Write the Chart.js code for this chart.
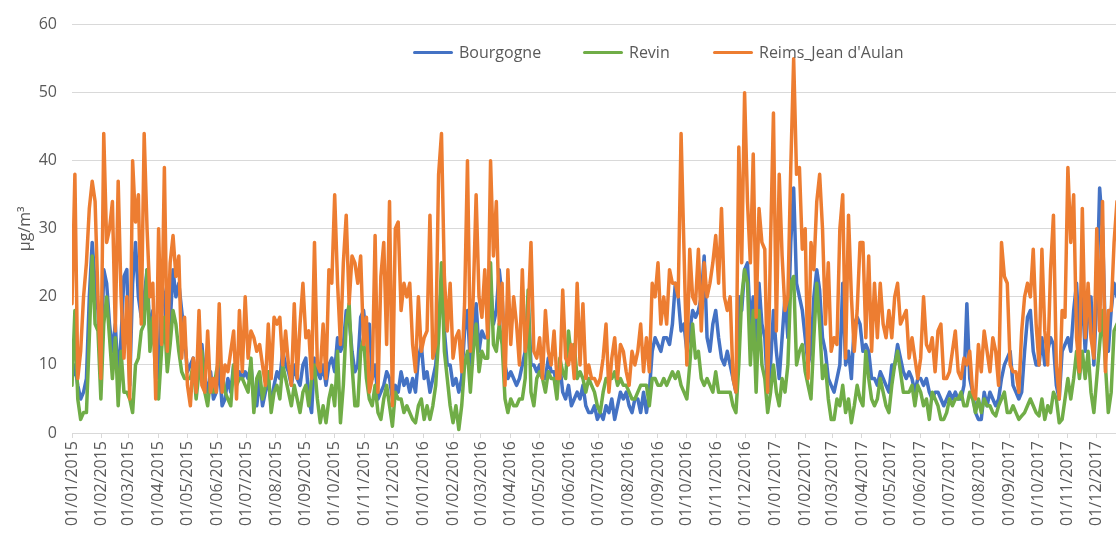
<!DOCTYPE html>
<html lang="fr">
<head>
<meta charset="utf-8">
<title>Concentrations journalières</title>
<script src="https://cdn.jsdelivr.net/npm/chart.js@4.4.1/dist/chart.umd.min.js"></script>
<style>
  html, body { margin: 0; padding: 0; background: #fff; }
  #wrap { position: relative; width: 1116px; height: 533px; }
  #legend { position: absolute; top: 0; left: 0; font-family: 'Open Sans', sans-serif; font-size: 16px; color: #595959; }
  .item { position: absolute; top: 41px; white-space: nowrap; display: flex; align-items: center; height: 22px; }
  .swatch { display: inline-block; width: 40px; height: 3px; border-radius: 2px; margin-right: 6px; }
</style>
</head>
<body>
<div id="wrap">
  <canvas id="chart"></canvas>
  <div id="legend">
    <div class="item" style="left:413px"><span class="swatch" style="background:#4472C4"></span>Bourgogne</div>
    <div class="item" style="left:583px"><span class="swatch" style="background:#70AD47"></span>Revin</div>
    <div class="item" style="left:713px"><span class="swatch" style="background:#ED7D31"></span>Reims_Jean d'Aulan</div>
  </div>
</div>
<script>
// une valeur tous les 3 jours à partir du 01/01/2015
const startDate = '01/01/2015';
const stepDays = 3;

const monthLabels = [
  '01/01/2015', '01/02/2015', '01/03/2015', '01/04/2015', '01/05/2015', '01/06/2015',
  '01/07/2015', '01/08/2015', '01/09/2015', '01/10/2015', '01/11/2015', '01/12/2015',
  '01/01/2016', '01/02/2016', '01/03/2016', '01/04/2016', '01/05/2016', '01/06/2016',
  '01/07/2016', '01/08/2016', '01/09/2016', '01/10/2016', '01/11/2016', '01/12/2016',
  '01/01/2017', '01/02/2017', '01/03/2017', '01/04/2017', '01/05/2017', '01/06/2017',
  '01/07/2017', '01/08/2017', '01/09/2017', '01/10/2017', '01/11/2017', '01/12/2017'
];

const bourgogne = [
  8,10,7,5,6,8,20,28,22,18,9,24,22,16,12,16,8,14,23,24,7,22,28,20,17,20,24,14,18,10,8,22,20,12,16,
  24,20,22,18,14,9,10,11,7,10,13,8,6,9,5,6,10,4,5,8,6,10,8,9,8,9,8,10,5,4,8,4,6,8,4,7,
  9,8,12,10,9,7,10,8,7,10,11,5,3,11,9,8,10,7,10,11,9,14,12,13,18,17,12,9,10,17,18,14,16,8,10,5,6,
  7,9,8,5,7,6,9,7,8,6,8,6,11,13,8,9,6,8,10,16,22,15,10,10,7,8,6,8,15,18,10,14,19,12,15,14,
  14,22,16,18,24,20,10,8,9,8,7,8,10,12,20,10,10,9,10,8,8,11,9,9,7,10,6,5,7,4,5,6,5,7,4,3,
  3,4,2,3,2,4,3,5,2,4,6,5,6,4,3,5,5,3,6,3,6,12,14,13,12,14,14,13,16,22,20,15,16,12,15,18,17,18,
  20,26,14,12,16,18,14,11,10,12,10,8,6,20,18,24,25,16,20,10,22,16,14,6,10,18,12,8,14,20,14,28,36,22,20,18,
  14,10,12,20,24,21,14,12,8,7,6,8,10,22,10,12,8,16,17,16,12,13,12,8,8,7,9,8,7,6,10,10,13,11,9,
  8,9,8,6,8,8,7,8,6,5,6,6,5,4,5,6,5,6,5,5,7,19,8,6,3,2,2,6,4,6,5,4,5,8,10,11,12,
  7,6,5,6,12,17,18,12,10,10,14,10,12,14,13,7,5,12,13,14,12,18,22,14,20,12,18,20,10,20,36,30,14,12,18,22,20
];

const revin = [
  7,18,5,2,3,3,14,26,16,15,5,16,20,14,8,14,4,12,6,6,5,3,10,11,15,16,24,12,17,8,5,12,17,9,13,
  18,16,12,9,8,8,8,10,5,9,12,6,4,8,6,9,11,9,6,5,4,10,7,8,8,7,6,11,3,8,9,5,7,9,3,6,
  7,5,10,8,6,4,7,5,3,6,7,4,8,10,5,1.5,4,1.5,5,7,4,12,1.5,7,16,19,10,4,4,12,14,8,5,4,7,3,2,
  5,7,4,1,6,5,5,3,4,3,2,1.5,4,5,2,4,2,4,7,14,25,12,8,4,1.5,4,0.5,4,10,12,6,12,16,9,12,11,
  11,25,13,12,16,13,5,3,5,4,4,5,5,8,21,6,4,8,9,8,6,9,8,8,5,11,9,8,15,11,13,8,9,8,6,8,
  7,6,4,3,6,8,8,8,9,7,8,7,7,6,5,5,6,7,7,7,4,8,8,7,7,8,7,8,9,8,9,7,6,5,10,16,11,12,
  8,7,8,7,6,9,6,6,6,6,6,4,3,10,20,24,22,10,18,6,18,10,8,3,6,10,6,4,8,6,10,22,23,10,12,13,
  9,7,5,14,22,16,8,10,5,2,2,5,4,7,3,5,1.5,4,7,5,4,12,8,5,4,5,8,6,4,3,7,10,12,9,6,
  6,6,7,4,7,6,4,5,2,6,5,4,2,2,3,5,4,5,5,6,4,4,6,5,3,5,3,5,4,4,3,2.5,4,5,6,3,3,
  4,3,2,2.5,3,4,5,4,3,2.5,5,2,4,3,6,5,1.5,2,5,8,5,8,12,8,12,8,12,6,3,8,13,18,10,3,6,15,16
];

const reims = [
  19,38,8,12,20,25,33,37,34,20,8,44,28,30,34,15,37,20,11,20,5,40,31,35,16,44,30,20,22,5,30,13,39,12,25,
  29,23,26,11,17,7,4,11,6,18,7,6,15,6,8,6,19,6,10,9,12,15,5,18,9,20,11,15,14,12,13,10,7,16,8,17,
  16,17,10,15,10,7,19,8,16,22,14,15,8,28,10,9,16,8,24,22,35,22,13,25,32,19,26,25,22,26,13,17,6,8,29,6,23,
  28,13,34,4,30,31,18,22,20,22,13,9,20,12,14,15,32,11,13,38,44,23,15,22,11,14,15,9,19,40,12,20,35,20,17,24,
  14,40,26,34,16,22,7,24,13,20,16,10,24,12,17,28,12,11,14,8,18,12,10,15,8,8,21,11,10,13,8,22,10,19,8,10,
  8,8,7,8,11,16,6,11,14,8,13,12,9,7,12,10,12,16,9,14,9,22,20,25,16,20,16,24,22,22,20,44,27,10,27,20,19,27,
  15,25,20,22,25,29,22,33,20,18,20,8,6,42,25,50,34,25,41,17,33,28,27,6,28,47,15,38,26,18,20,39,55,38,39,27,
  30,8,28,24,34,38,30,16,25,12,14,13,30,35,11,32,20,12,18,28,28,14,26,12,22,14,22,16,14,18,14,20,22,16,17,
  18,11,14,11,8,11,20,13,12,14,9,15,16,8,8,9,12,15,9,8,11,10,12,6,5,13,9,15,12,9,14,12,7,28,23,22,10,
  9,9,6,15,20,22,20,27,16,10,27,15,10,24,32,10,5,18,17,39,28,35,14,9,33,14,22,14,11,30,15,34,9,18,18,28,34
];

// jour depuis le début de la série
function dayIndex(label) {
  const [d, m, y] = label.split('/').map(Number);
  const [d0, m0, y0] = startDate.split('/').map(Number);
  return Math.round((Date.UTC(y, m - 1, d) - Date.UTC(y0, m0 - 1, d0)) / 86400000);
}

const days = reims.map((v, i) => i * stepDays);
const monthTicks = monthLabels.map(dayIndex);

const textColor = '#595959';
const gridColor = '#d9d9d9';
const font = { family: "'Open Sans', sans-serif", size: 16 };

const ctx = document.getElementById('chart').getContext('2d');
new Chart(ctx, {
  type: 'line',
  data: {
    labels: days,
    datasets: [
      { label: 'Bourgogne', data: bourgogne, borderColor: '#4472C4', backgroundColor: '#4472C4', order: 3 },
      { label: 'Revin', data: revin, borderColor: '#70AD47', backgroundColor: '#70AD47', order: 2 },
      { label: "Reims_Jean d'Aulan", data: reims, borderColor: '#ED7D31', backgroundColor: '#ED7D31', order: 1 },
    ],
  },
  options: {
    responsive: true,
    maintainAspectRatio: false,
    animation: false,
    layout: { padding: { top: 22, right: 0, bottom: 0, left: 0 } },
    elements: {
      line: { borderWidth: 3.5, tension: 0, borderJoinStyle: 'round', borderCapStyle: 'round' },
      point: { radius: 0 },
    },
    plugins: {
      legend: { display: false },
      tooltip: { enabled: false },
    },
    scales: {
      x: {
        type: 'linear',
        min: 0,
        max: 1085,
        grid: { drawOnChartArea: false, color: gridColor, tickLength: 5 },
        border: { color: gridColor },
        ticks: {
          autoSkip: false,
          minRotation: 90,
          maxRotation: 90,
          padding: 3,
          color: textColor,
          font: font,
          callback: (value) => {
            const i = monthTicks.indexOf(value);
            return i >= 0 ? monthLabels[i] : '';
          },
        },
        afterBuildTicks: (scale) => {
          scale.ticks = monthTicks.map(v => ({ value: v }));
        },
        afterFit: (scale) => {
          scale.height = 100;
          scale.paddingLeft = 0;
          scale.paddingRight = 0;
        },
      },
      y: {
        min: 0,
        max: 60,
        ticks: { stepSize: 10, padding: 15, color: textColor, font: font },
        grid: { color: gridColor, drawTicks: false },
        border: { display: false },
        title: { display: true, text: 'µg/m³', color: textColor, font: font, padding: { top: 16, bottom: 0 } },
        afterFit: (scale) => {
          scale.width = 72;
        },
      },
    },
  },
});
</script>
</body>
</html>
